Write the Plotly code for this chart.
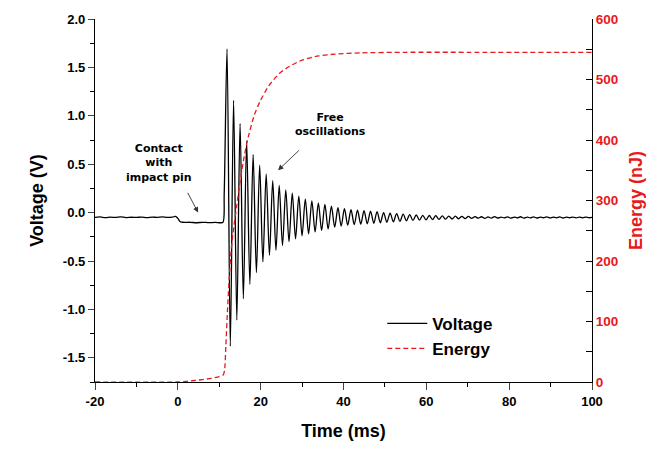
import plotly.graph_objects as go

# ---------------- data ----------------
# Voltage: pre-contact baseline and contact step
pre_t = [-20, -18.8, -17.5, -16.3, -15, -13.8, -12.5, -11.2, -10, -8.7, -7.5, -6.2, -5, -3.8, -2.5, -1.3,
         -0.6, 0.0, 0.6, 1.5, 3, 4.5, 6, 7.5, 9, 10.3, 10.9, 11.2]
pre_v = [-0.05, -0.045, -0.052, -0.047, -0.05, -0.044, -0.051, -0.048, -0.05, -0.046, -0.052, -0.047,
         -0.049, -0.045, -0.05, -0.046, -0.04, -0.06, -0.095, -0.1, -0.1, -0.105, -0.1, -0.104, -0.101,
         -0.105, -0.1, 0.2]

# Voltage: extrema of the damped oscillation
osc_t = [11.88, 12.67, 13.46, 14.24, 15.03, 15.82, 16.61, 17.39, 18.18, 18.97,
         19.76, 20.54, 21.33, 22.12, 22.91, 23.69, 24.48, 25.27, 26.06, 26.84,
         27.63, 28.42, 29.21, 29.99, 30.78, 31.57, 32.36, 33.14, 33.93, 34.72,
         35.51, 36.29, 37.08, 37.87, 38.66, 39.44, 40.23, 41.02, 41.81, 42.59,
         43.38, 44.17, 44.96, 45.74, 46.53, 47.32, 48.11, 48.89, 49.68, 50.47,
         51.26, 52.04, 52.83, 53.62, 54.41, 55.19, 55.98, 56.77, 57.56, 58.34,
         59.13, 59.92, 60.71, 61.49, 62.28, 63.07, 63.86, 64.64, 65.43, 66.22,
         67.01, 67.79, 68.58, 69.37, 70.16]
osc_v = [1.69, -1.38, 1.16, -1.11, 0.92, -0.89, 0.74, -0.74, 0.60, -0.62,
         0.49, -0.51, 0.40, -0.44, 0.33, -0.39, 0.28, -0.34, 0.235, -0.30,
         0.20, -0.27, 0.17, -0.24, 0.14, -0.22, 0.12, -0.20, 0.10, -0.185,
         0.085, -0.17, 0.067, -0.15, 0.05, -0.14, 0.04, -0.13, 0.03, -0.125,
         0.025, -0.12, 0.02, -0.115, 0.015, -0.11, 0.01, -0.105, 0.0, -0.10,
         -0.005, -0.095, -0.01, -0.09, -0.015, -0.085, -0.02, -0.08, -0.025, -0.078,
         -0.028, -0.075, -0.03, -0.072, -0.032, -0.07, -0.034, -0.068, -0.036, -0.066,
         -0.037, -0.064, -0.038, -0.063, -0.04]

# Voltage: residual noise after the oscillation
tail_t = [70.95, 71.74, 72.52, 73.31, 74.1, 74.89, 75.67, 76.46, 77.25, 78.04,
          78.82, 79.61, 80.4, 81.19, 81.97, 82.76, 83.55, 84.34, 85.12, 85.91,
          86.7, 87.49, 88.27, 89.06, 89.85, 90.64, 91.42, 92.21, 93.0, 93.79,
          94.57, 95.36, 96.15, 96.94, 97.72, 98.51, 99.3, 100.0]
tail_v = [-0.06, -0.041, -0.058, -0.043, -0.06, -0.045, -0.057, -0.042, -0.056, -0.046,
          -0.055, -0.044, -0.058, -0.047, -0.054, -0.043, -0.057, -0.046, -0.055, -0.045,
          -0.056, -0.046, -0.053, -0.044, -0.055, -0.047, -0.054, -0.045, -0.056, -0.047,
          -0.053, -0.046, -0.055, -0.046, -0.054, -0.047, -0.053, -0.05]

time_v = pre_t + osc_t + tail_t
voltage = pre_v + osc_v + tail_v

# Energy (nJ)
time_e = [-20, 0, 2, 4, 6, 8, 10, 11, 11.3, 11.6, 12.0, 12.4, 12.9, 13.5, 14.2, 15.0, 16.0, 17.0,
          18.5, 20, 22, 24.5, 27, 30, 34, 38, 44, 55, 70, 100]
energy = [0, 0, 1, 2.5, 4, 6, 9, 12, 20, 60, 120, 170, 220, 255, 290, 330, 372, 405,
          442, 466, 490, 510, 522, 532, 539, 542, 544, 545, 545, 545]

x_ticks = [-20, 0, 20, 40, 60, 80, 100]
y_ticks = [-1.5, -1.0, -0.5, 0.0, 0.5, 1.0, 1.5, 2.0]
y2_ticks = [0, 100, 200, 300, 400, 500, 600]

# ---------------- figure ----------------
AX_FONT = "Liberation Sans, Arial, sans-serif"
ANN_FONT = "DejaVu Sans, Verdana, sans-serif"
RED = "#e8191c"

fig = go.Figure()
fig.add_trace(go.Scatter(x=time_v, y=voltage, mode="lines", name="Voltage",
                         line=dict(color="black", width=1.3, shape="spline", smoothing=0.9)))
fig.add_trace(go.Scatter(x=time_e, y=energy, mode="lines", name="Energy", yaxis="y2",
                         line=dict(color=RED, width=1.3, dash="5px,3px", shape="spline", smoothing=0.6)))

fig.update_layout(
    width=663, height=449,
    margin=dict(l=94.5, r=71, t=15, b=63),
    plot_bgcolor="white", paper_bgcolor="white",
    showlegend=True,
    legend=dict(x=0.578, y=0.21, xanchor="left", yanchor="top",
                bgcolor="rgba(0,0,0,0)", tracegroupgap=0, itemwidth=40,
                font=dict(family=AX_FONT, size=17, color="black", weight="bold")),
    xaxis=dict(range=[-20, 100], tickvals=x_ticks, ticktext=[str(v) for v in x_ticks],
               ticks="outside", ticklen=7, tickwidth=1.3,
               showline=True, linecolor="black", linewidth=1.3, showgrid=False, zeroline=False,
               minor=dict(dtick=10, tick0=0, ticks="outside", ticklen=4, tickwidth=1.3, tickcolor="black"),
               tickfont=dict(family=AX_FONT, size=13, color="black", weight="bold"),
               title=dict(text="Time (ms)", standoff=16,
                          font=dict(family=AX_FONT, size=18, color="black", weight="bold"))),
    yaxis=dict(range=[-1.75, 2.0], tickvals=y_ticks, ticktext=[f"{v:.1f}" for v in y_ticks],
               ticks="outside", ticklen=6, tickwidth=1.3,
               showline=True, linecolor="black", linewidth=1.3, showgrid=False, zeroline=False,
               minor=dict(dtick=0.25, tick0=0, ticks="outside", ticklen=4, tickwidth=1.3, tickcolor="black"),
               tickfont=dict(family=AX_FONT, size=13, color="black", weight="bold"),
               title=dict(text="Voltage (V)", standoff=14,
                          font=dict(family=AX_FONT, size=18, color="black", weight="bold"))),
    yaxis2=dict(range=[0, 600], tickvals=y2_ticks, overlaying="y", side="right",
                ticks="inside", ticklen=6, tickwidth=1.3, tickcolor="black",
                showline=True, linecolor="black", linewidth=1.3, showgrid=False, zeroline=False,
                minor=dict(dtick=50, tick0=0, ticks="inside", ticklen=6, tickwidth=1.3, tickcolor="black"),
                tickfont=dict(family=AX_FONT, size=13.5, color=RED, weight="bold"),
                title=dict(text="Energy (nJ)", standoff=12,
                           font=dict(family=AX_FONT, size=18, color=RED, weight="bold"))),
)

fig.add_annotation(x=-4.6, y=0.51, xref="x", yref="y", text="Contact<br>with<br>impact pin",
                   showarrow=False, font=dict(family=ANN_FONT, size=11, color="black", weight="bold"),
                   align="center")
fig.add_annotation(x=4.9, y=0.0, ax=2.2, ay=0.22, xref="x", yref="y", axref="x", ayref="y",
                   text="", showarrow=True, arrowhead=2, arrowsize=1.2, arrowwidth=0.9, arrowcolor="#333")
fig.add_annotation(x=36.9, y=0.91, xref="x", yref="y", text="Free<br>oscillations",
                   showarrow=False, font=dict(family=ANN_FONT, size=11, color="black", weight="bold"),
                   align="center")
fig.add_annotation(x=24.2, y=0.437, ax=29.6, ay=0.657, xref="x", yref="y", axref="x", ayref="y",
                   text="", showarrow=True, arrowhead=2, arrowsize=1.2, arrowwidth=0.9, arrowcolor="#333")

fig.write_html("out.html", config={"displayModeBar": False},
               post_script="document.body.style.margin='0';document.body.style.overflow='hidden';")
